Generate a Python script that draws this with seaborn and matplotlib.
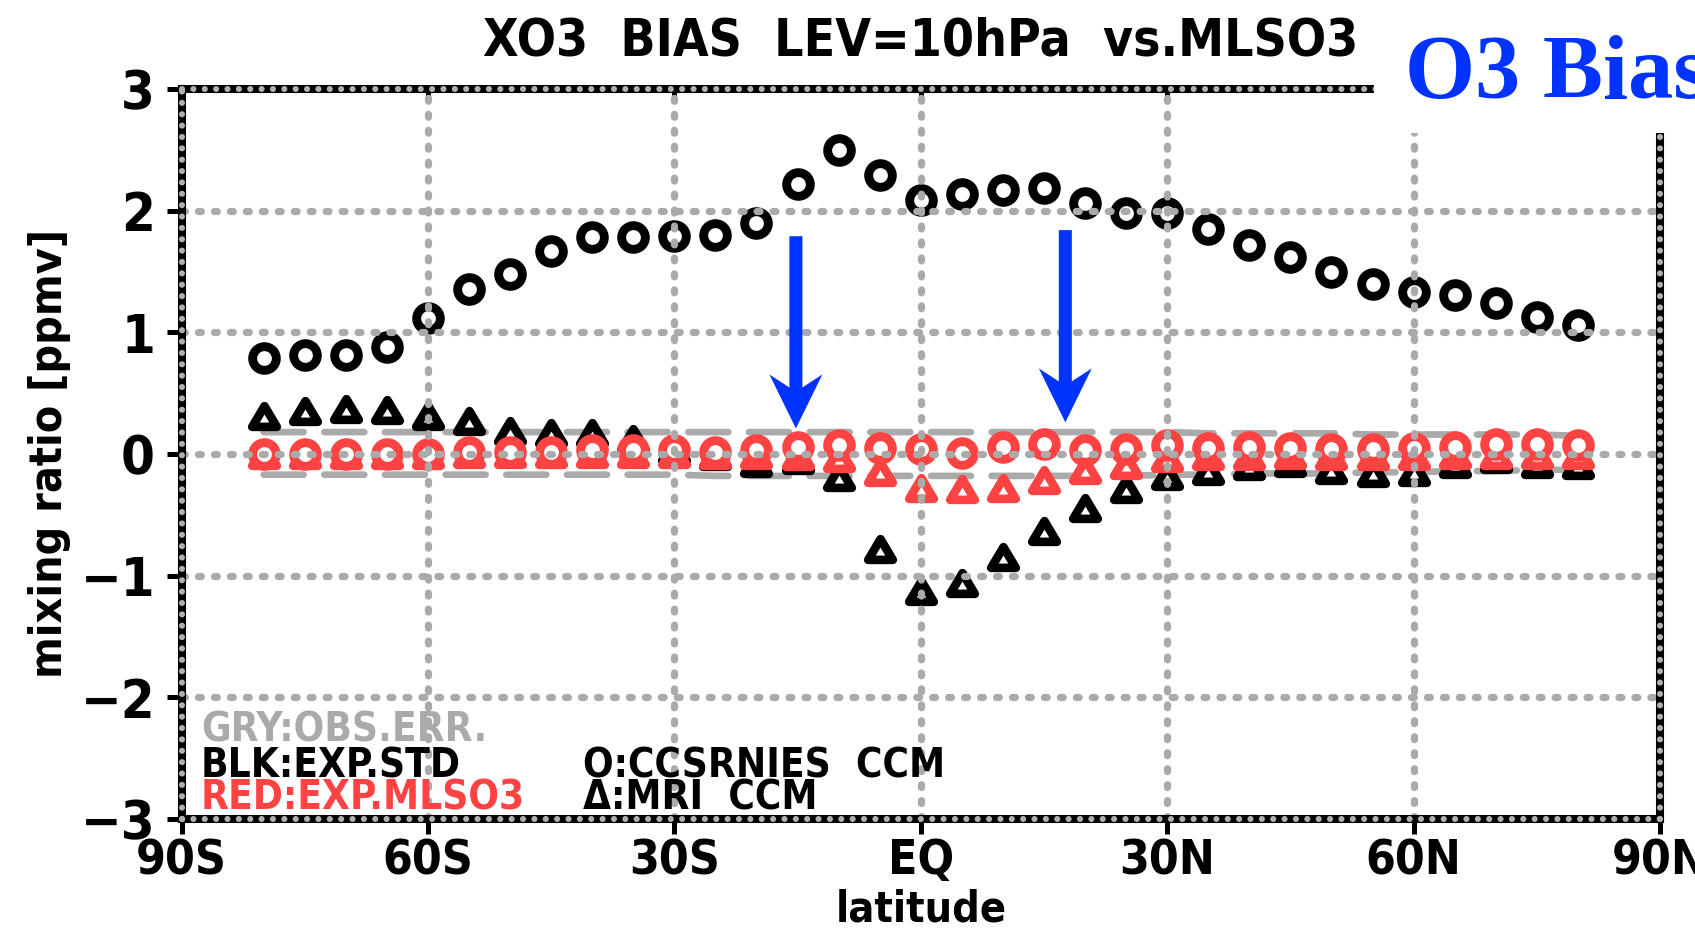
import numpy as np
import pandas as pd
import matplotlib
matplotlib.use("Agg")
import matplotlib.pyplot as plt
import seaborn as sns
from matplotlib import font_manager
from matplotlib.font_manager import FontProperties
from matplotlib.lines import Line2D
from matplotlib.patches import Rectangle, Polygon
from matplotlib.path import Path

# ---------------- data ----------------
latitudes = [-80, -75, -70, -65, -60, -55, -50, -45, -40, -35, -30, -25, -20,
             -15, -10, -5, 0, 5, 10, 15, 20, 25, 30, 35, 40, 45, 50, 55, 60,
             65, 70, 75, 80]
ccsrnies_std = [0.79, 0.81, 0.81, 0.88, 1.12, 1.36, 1.48, 1.67, 1.78, 1.78, 1.79,
                1.80, 1.90, 2.22, 2.50, 2.29, 2.09, 2.14, 2.17, 2.19, 2.06, 1.98,
                1.98, 1.85, 1.72, 1.62, 1.50, 1.40, 1.33, 1.31, 1.24, 1.13, 1.06]
mri_std = [0.31, 0.35, 0.37, 0.36, 0.31, 0.27, 0.19, 0.17, 0.17, 0.12, 0.03,
           -0.02, -0.07, -0.05, -0.19, -0.78, -1.13, -1.06, -0.85, -0.63, -0.44,
           -0.29, -0.18, -0.14, -0.10, -0.07, -0.13, -0.16, -0.15, -0.08, -0.04,
           -0.08, -0.09]
ccsrnies_mlso3 = [0.00, 0.00, 0.00, 0.00, 0.00, 0.02, 0.02, 0.02, 0.03, 0.03, 0.03,
                  0.02, 0.03, 0.06, 0.07, 0.05, 0.04, 0.01, 0.06, 0.08, 0.03, 0.04,
                  0.07, 0.05, 0.06, 0.05, 0.04, 0.04, 0.05, 0.06, 0.08, 0.08, 0.07]
mri_mlso3 = [-0.01, -0.01, -0.01, -0.01, -0.01, 0.00, 0.00, 0.00, 0.00, 0.00,
             0.00, -0.01, -0.01, -0.02, -0.03, -0.15, -0.28, -0.29, -0.28, -0.21,
             -0.13, -0.09, -0.03, -0.02, -0.02, -0.01, -0.02, -0.02, -0.02, -0.01,
             -0.01, -0.01, -0.01]
obs_err_upper = [0.18, 0.18, 0.18, 0.18, 0.18, 0.18, 0.18, 0.18, 0.18, 0.18, 0.18,
                 0.18, 0.18, 0.18, 0.18, 0.18, 0.18, 0.18, 0.18, 0.18, 0.18, 0.18,
                 0.18, 0.17, 0.17, 0.17, 0.17, 0.16, 0.16, 0.16, 0.16, 0.16, 0.15]
obs_err_lower = [-0.17, -0.17, -0.17, -0.17, -0.17, -0.17, -0.17, -0.17, -0.17, -0.17,
                 -0.17, -0.18, -0.18, -0.18, -0.18, -0.18, -0.18, -0.18, -0.18, -0.18,
                 -0.18, -0.18, -0.17, -0.17, -0.16, -0.16, -0.16, -0.15, -0.15, -0.14,
                 -0.14, -0.13, -0.13]

x_ticks = [-90, -60, -30, 0, 30, 60, 90]
x_tick_labels = ["90S", "60S", "30S", "EQ", "30N", "60N", "90N"]
y_ticks = [-3, -2, -1, 0, 1, 2, 3]
y_tick_labels = ["\u22123", "\u22122", "\u22121", "0", "1", "2", "3"]
title_text = "XO3  BIAS  LEV=10hPa  vs.MLSO3"
x_label = "latitude"
y_label = "mixing ratio [ppmv]"
legend_colour_lines = ["GRY:OBS.ERR.", "BLK:EXP.STD", "RED:EXP.MLSO3"]
legend_marker_lines = ["O:CCSRNIES  CCM", "\u0394:MRI  CCM"]
banner_text = "O3 Bias"
arrow_lats = [-15.2, 17.6]
arrow_tails = [1.79, 1.84]
arrow_tips = [0.21, 0.26]

# ---------------- style ----------------
GRAY = "#aaaaaa"
RED = "#ff4242"
BLUE = "#0033ff"
W, H = 1695, 932

sns.set_theme(style="white")
plt.rcParams["font.family"] = ["Liberation Sans", "DejaVu Sans"]
plt.rcParams["font.weight"] = "bold"
for k in ["text.color", "axes.labelcolor", "xtick.color", "ytick.color"]:
    plt.rcParams[k] = "black"


def _wt(f):
    w = f.weight
    if isinstance(w, str):
        w = font_manager.weight_dict.get(w, 400)
    return w


def pick_condensed():
    best, best_score = None, -1e9
    pref = ["liberation sans narrow", "dejavu sans", "noto sans", "open sans",
            "roboto", "liberation sans", "lato", "inter"]
    for f in font_manager.fontManager.ttflist:
        nm, fn = f.name.lower(), f.fname.lower()
        cond = ("condensed" in str(f.stretch) or "narrow" in nm or "condensed" in nm
                or "condensed" in fn or "narrow" in fn)
        if not cond:
            continue
        if "mono" in nm or "cjk" in nm or ("serif" in nm and "sans" not in nm):
            continue
        if f.style != "normal":
            continue
        score = -abs(_wt(f) - 700) / 10.0
        if "extra" in fn or "ultra" in fn or "extra" in str(f.stretch):
            score -= 15
        if "semi" in fn or "semi" in str(f.stretch):
            score -= 8
        for i, p in enumerate(pref):
            if nm.startswith(p):
                score += 10 - i
                break
        if score > best_score:
            best, best_score = f, score
    return best


COND = pick_condensed()
SHRINK = 1.0 if COND is not None else 0.9


def gfp(size):
    if COND is not None:
        return FontProperties(fname=COND.fname, size=size)
    return FontProperties(family=["Liberation Sans", "DejaVu Sans"],
                          weight="bold", size=size * SHRINK)


fig = plt.figure(figsize=(W / 100, H / 100), dpi=100)
ax_l, ax_r, ax_t, ax_b = 181.5, 1660.0, 89.0, 819.0
ax = fig.add_axes([ax_l / W, 1 - ax_b / H, (ax_r - ax_l) / W, (ax_b - ax_t) / H])

df = pd.DataFrame({
    "lat": latitudes, "ccsr_std": ccsrnies_std, "mri_std": mri_std,
    "ccsr_mls": ccsrnies_mlso3, "mri_mls": mri_mlso3,
    "err_hi": obs_err_upper, "err_lo": obs_err_lower,
})

# observation error (gray dashed), under the markers
for col in ["err_hi", "err_lo"]:
    sns.lineplot(data=df, x="lat", y=col, ax=ax, color=GRAY, linewidth=4.8,
                 linestyle=(0, (6.0, 3.1)), dash_capstyle="round",
                 errorbar=None, zorder=1.0, legend=False)

tri = Path([(0, 0.84), (-1, -0.84), (1, -0.84), (0, 0.84)], closed=True)
CIRC_S, CIRC_LW = 290, 6.4
TRI_S, TRI_LW = 315, 6.2

# white-filled marks, drawn below the dotted grid
layers = [("mri_std", tri, TRI_S, TRI_LW, "black", 1.2),
          ("ccsr_std", "o", CIRC_S, CIRC_LW, "black", 1.3),
          ("mri_mls", tri, TRI_S, TRI_LW, RED, 1.4),
          ("ccsr_mls", "o", CIRC_S, CIRC_LW, RED, 1.5)]
for col, mk, s, lw, ec, z in layers:
    sns.scatterplot(data=df, x="lat", y=col, ax=ax, marker=mk, s=s,
                    color="white", edgecolor=ec, linewidth=lw,
                    zorder=z, legend=False)
for coll in ax.collections:
    coll.set_joinstyle("round")

ax.set_xlim(-90, 90)
ax.set_ylim(-3, 3)
ax.set_xticks(x_ticks)
ax.set_xticklabels(x_tick_labels)
ax.set_yticks(y_ticks)
ax.set_yticklabels(y_tick_labels)
ax.set_xlabel("")
ax.set_ylabel("")
for lab in ax.get_xticklabels():
    lab.set_fontproperties(gfp(34.5))
    lab.set_color("black")
for lab in ax.get_yticklabels():
    lab.set_fontproperties(gfp(39))
    lab.set_color("black")

# dotted grid drawn over the marks
ax.set_axisbelow(False)
ax.grid(True, color=GRAY, linewidth=5.2, linestyle=(0, (0.4, 1.81)),
        dash_capstyle="round")

for sp in ax.spines.values():
    sp.set_visible(True)
    sp.set_color("black")
    sp.set_linewidth(5.8)
    sp.set_zorder(6)

# gray dotted pattern along the frame
frame_kw = dict(transform=ax.transAxes, clip_on=False, color="#b0b0b0",
                linewidth=4.4, linestyle=(0, (0.01, 1.85)),
                dash_capstyle="round", zorder=7)
for xs, ys in [([0, 1], [1, 1]), ([0, 1], [0, 0]), ([0, 0], [0, 1]), ([1, 1], [0, 1])]:
    ax.add_artist(Line2D(xs, ys, **frame_kw))

ax.tick_params(axis="both", direction="out", length=11, width=3.6,
               color="black", left=True, bottom=True)
ax.tick_params(axis="x", pad=2)
ax.tick_params(axis="y", pad=8)

sec = ax.secondary_xaxis("top")
sec.set_xticks(x_ticks)
sec.tick_params(direction="in", length=10, width=3.6, labeltop=False, color="black")
for sp in sec.spines.values():
    sp.set_visible(False)

ax.set_title(title_text, fontproperties=gfp(37), color="black", pad=24)

# axis labels
fig.text(50 / W, 1 - 453 / H, y_label, rotation=90, ha="center", va="center",
         fontproperties=gfp(32), color="black")
fig.text(921 / W, 1 - 921 / H, x_label, ha="center", va="baseline",
         fontproperties=gfp(31), color="black")

# in-plot key
col_y = [741, 777, 810]
col_c = [GRAY, "black", RED]
for t, yy, cc in zip(legend_colour_lines, col_y, col_c):
    fig.text(201 / W, 1 - yy / H, t, color=cc, fontproperties=gfp(29),
             va="baseline", ha="left")
for t, yy in zip(legend_marker_lines, col_y[1:]):
    fig.text(583 / W, 1 - yy / H, t, color="black", fontproperties=gfp(29),
             va="baseline", ha="left")

# blue arrows (pixel offsets converted to data units)
deg_per_px = 180.0 / (ax_r - ax_l)
val_per_px = 6.0 / (ax_b - ax_t)
for xl, tail, tip in zip(arrow_lats, arrow_tails, arrow_tips):
    L = (tail - tip) / val_per_px
    pts_px = [(0, 0), (26.5, 54), (6.5, 41), (6.5, L), (-6.5, L), (-6.5, 41), (-26.5, 54)]
    pts = [(xl + dx * deg_per_px, tip + dy * val_per_px) for dx, dy in pts_px]
    ax.add_patch(Polygon(pts, closed=True, facecolor=BLUE, edgecolor="none", zorder=8))

# white block at top right and banner text
fig.add_artist(Rectangle((1374 / W, 1 - 133 / H), 1 - 1374 / W, 133 / H,
                         transform=fig.transFigure, facecolor="white",
                         edgecolor="none", zorder=10))
fig.text(1405 / W, 1 - 98 / H, banner_text, color=BLUE, fontsize=65,
         family=["Liberation Serif", "DejaVu Serif"], weight="bold",
         va="baseline", ha="left", zorder=11)

fig.savefig("out.png", dpi=100)
